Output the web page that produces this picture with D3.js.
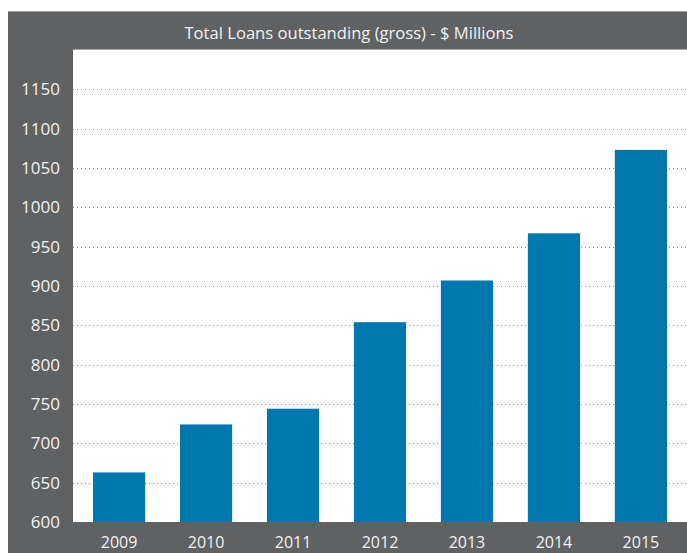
<!DOCTYPE html>
<html>
<head>
<meta charset="utf-8">
<script src="https://cdn.jsdelivr.net/npm/d3@7"></script>
<style>
  body { margin: 0; background: #fff; }
  text { font-family: "Open Sans", "Noto Sans", sans-serif; }
</style>
</head>
<body>
<div id="chart"></div>
<script>
// data
var years = ["2009", "2010", "2011", "2012", "2013", "2014", "2015"];
var loans = [663, 724, 744, 854, 907, 967, 1073];
var yTicks = [600, 650, 700, 750, 800, 850, 900, 950, 1000, 1050, 1100, 1150];
var title = "Total Loans outstanding (gross) - $ Millions";

var W = 687, H = 553;
var frame = {left: 8, top: 11};
var plot = {left: 73, top: 50, right: 687, bottom: 522};

var svg = d3.select("#chart")
  .append("svg")
  .attr("width", W)
  .attr("height", H);

// gray frame
svg.append("rect")
  .attr("x", frame.left)
  .attr("y", frame.top)
  .attr("width", W - frame.left)
  .attr("height", H - frame.top)
  .attr("fill", "#606163");

// thin light edge of title bar
svg.append("line")
  .attr("x1", frame.left).attr("x2", W)
  .attr("y1", frame.top + 0.5).attr("y2", frame.top + 0.5)
  .attr("stroke", "#9a9b9d");

// white plot area
svg.append("rect")
  .attr("x", plot.left)
  .attr("y", plot.top)
  .attr("width", plot.right - plot.left)
  .attr("height", plot.bottom - plot.top)
  .attr("fill", "#ffffff");

svg.append("line")
  .attr("x1", plot.left).attr("x2", W)
  .attr("y1", plot.top - 0.5).attr("y2", plot.top - 0.5)
  .attr("stroke", "#a5a6a8");

// title
svg.append("text")
  .attr("x", 349)
  .attr("y", 39)
  .attr("text-anchor", "middle")
  .attr("fill", "#f2f2f2")
  .style("font-size", "16.6px")
  .text(title);

// scales
var x = d3.scaleBand()
  .domain(years)
  .range([plot.left, plot.right])
  .paddingInner(0.4)
  .paddingOuter(0.23);

var y = d3.scaleLinear()
  .domain([600, 1200])
  .range([plot.bottom, plot.top]);

// dotted gridlines
svg.append("g")
  .selectAll("line")
  .data(yTicks.slice(1))
  .enter()
  .append("line")
  .attr("x1", plot.left)
  .attr("x2", plot.right)
  .attr("y1", function(d) { return Math.round(y(d)) + 0.5; })
  .attr("y2", function(d) { return Math.round(y(d)) + 0.5; })
  .attr("stroke", "#8a8a8a")
  .attr("stroke-width", 1)
  .attr("stroke-dasharray", "1,3");

// bars
svg.append("g")
  .selectAll("rect")
  .data(years)
  .enter()
  .append("rect")
  .attr("x", function(d) { return x(d); })
  .attr("y", function(d, i) { return y(loans[i]); })
  .attr("width", x.bandwidth())
  .attr("height", function(d, i) { return plot.bottom - y(loans[i]); })
  .attr("fill", "#0077ad");

// y axis labels
var yAxis = svg.append("g")
  .attr("transform", "translate(" + (plot.left - 13) + ",0)")
  .call(d3.axisLeft(y).tickValues(yTicks).tickFormat(d3.format("d")).tickSize(0).tickPadding(0));
yAxis.select(".domain").remove();
yAxis.selectAll("text")
  .attr("fill", "#f2f2f2")
  .style("font-size", "17px")
  .style("font-family", "'Open Sans', 'Noto Sans', sans-serif");

// x axis labels
var xAxis = svg.append("g")
  .attr("transform", "translate(0," + plot.bottom + ")")
  .call(d3.axisBottom(x).tickSize(0).tickPadding(15));
xAxis.select(".domain").remove();
xAxis.selectAll("text")
  .attr("fill", "#f2f2f2")
  .style("font-size", "16px")
  .style("font-family", "'Open Sans', 'Noto Sans', sans-serif");
</script>
</body>
</html>
